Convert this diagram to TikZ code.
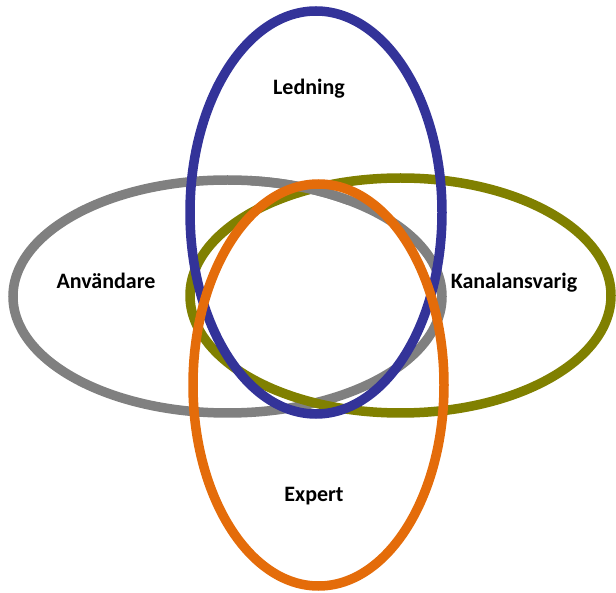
\documentclass[tikz,border=0pt]{standalone}
\usepackage{fontspec}
\setmainfont{Carlito}
\usepackage{xcolor}
\definecolor{ringgray}{HTML}{808080}
\definecolor{ringolive}{HTML}{808000}
\definecolor{ringblue}{HTML}{333399}
\definecolor{ringorange}{HTML}{E46C0A}
\tikzset{ring/.style={line width=9.5pt},
  lbl/.style={anchor=base,font=\fontsize{22}{26}\selectfont\bfseries}}
\begin{document}
\begin{tikzpicture}[x=1pt,y=-1pt]
\useasboundingbox (0,0) rectangle (616,593);
\draw[ring,ringgray] (227.5,296.5) ellipse [x radius=214.5, y radius=116.5];
\draw[ring,ringolive] (400.5,295.5) ellipse [x radius=210.5, y radius=117.5];
% grau oben wieder drueber
\begin{scope}
\clip (250,165) rectangle (360,205);
\draw[ring,ringgray] (227.5,296.5) ellipse [x radius=214.5, y radius=116.5];
\end{scope}
\draw[ring,ringblue] (316,212.5) ellipse [x radius=126, y radius=201.5];
\draw[ring,ringorange] (318.5,385) ellipse [x radius=125.5, y radius=201];
\node[lbl] (ledning) at (309,95) {Ledning};
\node[lbl] (anv) at (106,289) {Användare};
\node[lbl] (kanal) at (514,289) {Kanalansvarig};
\node[lbl] (expert) at (314,501) {Expert};
\end{tikzpicture}
\end{document}
